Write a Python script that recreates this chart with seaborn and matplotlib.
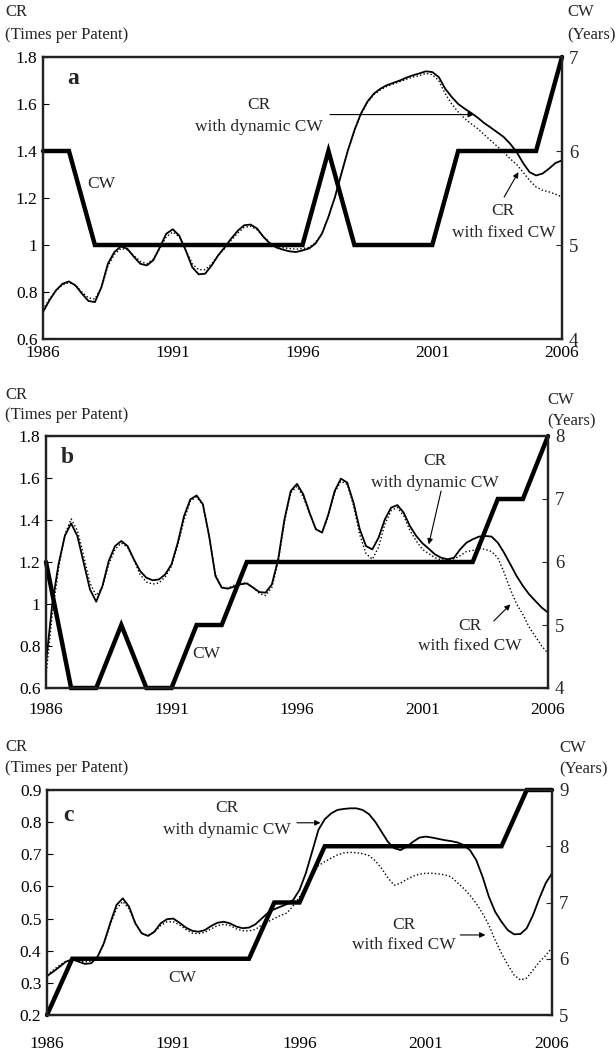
import numpy as np
import pandas as pd
import seaborn as sns
import matplotlib.pyplot as plt
from matplotlib.ticker import MultipleLocator

# time axes: CR read every quarter year, CW once a year
t_q = np.arange(1986, 2006.01, 0.25)
years = np.arange(1986, 2007)

# ---- panel a ----
a_cr_dynamic = [0.715, 0.765, 0.807, 0.835, 0.845, 0.828, 0.793, 0.762, 0.757, 0.82,
                0.92, 0.97, 0.994, 0.984, 0.95, 0.92, 0.913, 0.935, 0.99, 1.048,
                1.067, 1.04, 0.977, 0.906, 0.875, 0.878, 0.913, 0.956, 0.99, 1.027,
                1.06, 1.084, 1.087, 1.07, 1.034, 1.006, 0.989, 0.98, 0.973, 0.97,
                0.977, 0.985, 1.006, 1.048, 1.12, 1.204, 1.304, 1.403, 1.488, 1.559,
                1.61, 1.644, 1.665, 1.68, 1.69, 1.70, 1.712, 1.722, 1.73, 1.739,
                1.736, 1.715, 1.665, 1.63, 1.60, 1.58, 1.562, 1.542, 1.519, 1.50,
                1.48, 1.46, 1.431, 1.396, 1.349, 1.31, 1.296, 1.304, 1.325, 1.349, 1.36]
a_cr_fixed = [0.725, 0.77, 0.805, 0.83, 0.84, 0.83, 0.80, 0.775, 0.77, 0.82,
              0.91, 0.96, 0.985, 0.98, 0.955, 0.93, 0.92, 0.94, 0.985, 1.035,
              1.055, 1.035, 0.98, 0.92, 0.895, 0.895, 0.92, 0.955, 0.985, 1.02,
              1.05, 1.075, 1.08, 1.065, 1.035, 1.01, 0.995, 0.988, 0.985, 0.982,
              0.985, 0.99, 1.01, 1.05, 1.12, 1.204, 1.304, 1.40, 1.485, 1.555,
              1.605, 1.64, 1.66, 1.675, 1.685, 1.695, 1.705, 1.715, 1.72, 1.73,
              1.725, 1.70, 1.644, 1.60, 1.566, 1.538, 1.516, 1.495, 1.47, 1.445,
              1.42, 1.396, 1.367, 1.343, 1.31, 1.275, 1.247, 1.233, 1.226, 1.216, 1.204]
a_cw = [6, 6, 5, 5, 5, 5, 5, 5, 5, 5, 5, 6, 5, 5, 5, 5, 6, 6, 6, 6, 7]

# ---- panel b ----
b_cr_dynamic = [0.72, 1.0, 1.19, 1.324, 1.384, 1.324, 1.197, 1.07, 1.011, 1.086,
                1.205, 1.276, 1.30, 1.276, 1.213, 1.157, 1.125, 1.113, 1.117, 1.141,
                1.189, 1.292, 1.419, 1.498, 1.517, 1.475, 1.324, 1.133, 1.078, 1.073,
                1.083, 1.094, 1.098, 1.078, 1.057, 1.054, 1.094, 1.213, 1.403, 1.538,
                1.572, 1.522, 1.435, 1.356, 1.34, 1.427, 1.538, 1.597, 1.578, 1.483,
                1.356, 1.276, 1.26, 1.316, 1.403, 1.459, 1.471, 1.435, 1.371, 1.324,
                1.289, 1.263, 1.236, 1.22, 1.213, 1.22, 1.26, 1.292, 1.308, 1.321,
                1.324, 1.321, 1.292, 1.244, 1.189, 1.133, 1.086, 1.046, 1.014, 0.983, 0.959]
b_cr_fixed = [0.66, 0.95, 1.17, 1.33, 1.405, 1.35, 1.23, 1.10, 1.04, 1.08,
              1.19, 1.26, 1.29, 1.27, 1.21, 1.14, 1.105, 1.095, 1.10, 1.13,
              1.18, 1.28, 1.40, 1.49, 1.51, 1.47, 1.32, 1.14, 1.08, 1.075,
              1.09, 1.10, 1.10, 1.08, 1.05, 1.04, 1.08, 1.20, 1.39, 1.53,
              1.56, 1.51, 1.43, 1.36, 1.34, 1.42, 1.53, 1.585, 1.57, 1.47,
              1.33, 1.24, 1.213, 1.27, 1.38, 1.445, 1.46, 1.42, 1.35, 1.30,
              1.26, 1.24, 1.22, 1.21, 1.21, 1.215, 1.23, 1.25, 1.255, 1.265,
              1.26, 1.25, 1.22, 1.15, 1.07, 1.00, 0.95, 0.89, 0.845, 0.80, 0.765]
b_cw = [6, 4, 4, 5, 4, 4, 5, 5, 6, 6, 6, 6, 6, 6, 6, 6, 6, 6, 7, 7, 8]

# ---- panel c ----
c_cr_dynamic = [0.321, 0.335, 0.35, 0.366, 0.373, 0.366, 0.359, 0.361, 0.381, 0.423,
                0.485, 0.542, 0.563, 0.537, 0.485, 0.454, 0.446, 0.459, 0.485, 0.498,
                0.50, 0.487, 0.472, 0.462, 0.459, 0.464, 0.477, 0.487, 0.49, 0.485,
                0.475, 0.47, 0.472, 0.482, 0.50, 0.518, 0.529, 0.537, 0.545, 0.558,
                0.589, 0.641, 0.708, 0.776, 0.809, 0.827, 0.838, 0.841, 0.843, 0.843,
                0.838, 0.825, 0.801, 0.77, 0.739, 0.719, 0.713, 0.724, 0.739, 0.752,
                0.755, 0.752, 0.748, 0.744, 0.741, 0.737, 0.729, 0.713, 0.682, 0.63,
                0.568, 0.521, 0.49, 0.464, 0.451, 0.452, 0.47, 0.511, 0.563, 0.61, 0.641]
c_cr_fixed = [0.325, 0.34, 0.355, 0.367, 0.372, 0.368, 0.365, 0.368, 0.38, 0.42,
              0.48, 0.53, 0.553, 0.53, 0.485, 0.455, 0.448, 0.458, 0.478, 0.49,
              0.49, 0.48, 0.466, 0.455, 0.453, 0.457, 0.468, 0.478, 0.482, 0.478,
              0.468, 0.462, 0.462, 0.466, 0.48, 0.49, 0.50, 0.51, 0.517, 0.54,
              0.567, 0.60, 0.632, 0.665, 0.677, 0.688, 0.698, 0.704, 0.706, 0.705,
              0.702, 0.696, 0.68, 0.656, 0.627, 0.604, 0.61, 0.622, 0.632, 0.638,
              0.641, 0.641, 0.639, 0.636, 0.63, 0.612, 0.594, 0.573, 0.547, 0.516,
              0.48, 0.433, 0.392, 0.356, 0.324, 0.309, 0.315, 0.34, 0.365, 0.385, 0.41]
c_cw = [5, 6, 6, 6, 6, 6, 6, 6, 6, 7, 7, 8, 8, 8, 8, 8, 8, 8, 8, 9, 9]

panels = [
    dict(tag="a", dyn=a_cr_dynamic, fix=a_cr_fixed, cw=a_cw,
         ylim=(0.6, 1.8), ystep=0.2, cwlim=(4, 7),
         yticklabels=["0.6", "0.8", "1", "1.2", "1.4", "1.6", "1.8"],
         rect=[43 / 616, 1 - 339 / 1054, (562 - 43) / 616, (339 - 57) / 1054],
         xpad=4, cr_y=(12, 35), cw_x=567, cw_y=(12, 35),
         dyn_txt=(1994.3, 1.594, 1.502), dyn_arrow=((1997.06, 1.555), (2002.6, 1.555)),
         fix_txt=(2003.74, 1.145, 1.051), fix_arrow=((2003.77, 1.204), (2004.32, 1.31)),
         cw_txt=(1988.25, 1.26), tag_xy=(1987.16, 1.708)),
    dict(tag="b", dyn=b_cr_dynamic, fix=b_cr_fixed, cw=b_cw,
         ylim=(0.6, 1.8), ystep=0.2, cwlim=(4, 8),
         yticklabels=["0.6", "0.8", "1", "1.2", "1.4", "1.6", "1.8"],
         rect=[46 / 616, 1 - 688 / 1054, (548 - 46) / 616, (688 - 436) / 1054],
         xpad=10, cr_y=(395, 415), cw_x=547, cw_y=(400, 421),
         dyn_txt=(2001.51, 1.68, 1.578), dyn_arrow=((2001.74, 1.538), (2001.25, 1.284)),
         fix_txt=(2002.9, 0.895, 0.80), fix_arrow=((2003.84, 0.919), (2004.5, 0.998)),
         cw_txt=(1992.37, 0.76), tag_xy=(1986.86, 1.697)),
    dict(tag="c", dyn=c_cr_dynamic, fix=c_cr_fixed, cw=c_cw,
         ylim=(0.2, 0.9), ystep=0.1, cwlim=(5, 9),
         yticklabels=["0.2", "0.3", "0.4", "0.5", "0.6", "0.7", "0.8", "0.9"],
         rect=[47 / 616, 1 - 1015 / 1054, (552 - 47) / 616, (1015 - 790) / 1054],
         xpad=15, cr_y=(747, 768), cw_x=559, cw_y=(748, 769),
         dyn_txt=(1993.13, 0.843, 0.776), dyn_arrow=((1995.9, 0.798), (1996.83, 0.798)),
         fix_txt=(2000.15, 0.48, 0.418), fix_arrow=((2002.37, 0.449), (2003.36, 0.449)),
         cw_txt=(1991.35, 0.314), tag_xy=(1986.86, 0.822)),
]

sns.set_style("white")
plt.rcParams['font.family'] = ['Liberation Serif', 'DejaVu Serif']

fig = plt.figure(figsize=(6.16, 10.54), dpi=100)
FS = 12.5

for p in panels:
    ax = fig.add_axes(p["rect"])
    df = pd.DataFrame({"year": t_q, "dynamic": p["dyn"], "fixed": p["fix"]})
    sns.lineplot(data=df, x="year", y="fixed", ax=ax, color="black",
                 lw=1.0, linestyle=(0, (1, 1.6)))
    sns.lineplot(data=df, x="year", y="dynamic", ax=ax, color="black", lw=1.3)
    ax.set_xlim(1986, 2006)
    ax.set_ylim(*p["ylim"])
    ax.set_yticks(np.arange(p["ylim"][0], p["ylim"][1] + 1e-6, p["ystep"]))
    ax.set_yticklabels(p["yticklabels"])
    ax.set_xticks([1986, 1991, 1996, 2001, 2006])
    ax.xaxis.set_minor_locator(MultipleLocator(1))
    ax.set_xlabel("")
    ax.set_ylabel("")
    ax.tick_params(axis="both", which="both", direction="in", length=4,
                   width=0.8, labelsize=FS, colors="black")
    ax.tick_params(axis="x", pad=p["xpad"])
    ax.tick_params(axis="y", pad=4)
    for s in ax.spines.values():
        s.set_linewidth(1.6)
        s.set_color("#222222")

    ax2 = ax.twinx()
    cwdf = pd.DataFrame({"year": years, "cw": p["cw"]})
    sns.lineplot(data=cwdf, x="year", y="cw", ax=ax2, color="black", lw=3.2,
                 solid_joinstyle="miter", clip_on=False)
    ax2.set_ylim(*p["cwlim"])
    ax2.set_yticks(np.arange(p["cwlim"][0], p["cwlim"][1] + 1))
    ax2.set_ylabel("")
    ax2.tick_params(axis="y", direction="in", length=4, width=0.8,
                    labelsize=FS + 1, pad=5)
    for s in ax2.spines.values():
        s.set_linewidth(1.6)
        s.set_color("#222222")

    # titles of the two value axes
    fig.text(5 / 616, 1 - p["cr_y"][0] / 1054, "CR", fontsize=FS - 0.5, va="center")
    fig.text(5 / 616, 1 - p["cr_y"][1] / 1054, "(Times per Patent)",
             fontsize=FS - 0.5, va="center")
    fig.text(p["cw_x"] / 616, 1 - p["cw_y"][0] / 1054, "CW", fontsize=FS - 0.5, va="center")
    fig.text(p["cw_x"] / 616, 1 - p["cw_y"][1] / 1054, "(Years)",
             fontsize=FS - 0.5, va="center")

    # panel tag and annotations
    ax.text(*p["tag_xy"], p["tag"], fontsize=17, fontweight="bold",
            ha="center", va="center")
    ax.text(*p["cw_txt"], "CW", fontsize=FS, ha="center", va="center")
    dx, dy1, dy2 = p["dyn_txt"]
    ax.text(dx, dy1, "CR", fontsize=FS, ha="center", va="center")
    ax.text(dx, dy2, "with dynamic CW", fontsize=FS, ha="center", va="center")
    fx, fy1, fy2 = p["fix_txt"]
    ax.text(fx, fy1, "CR", fontsize=FS, ha="center", va="center")
    ax.text(fx, fy2, "with fixed CW", fontsize=FS, ha="center", va="center")
    for tail, head in (p["dyn_arrow"], p["fix_arrow"]):
        ax.annotate("", xy=head, xytext=tail,
                    arrowprops=dict(arrowstyle="-|>", color="black", lw=0.8,
                                    mutation_scale=8, shrinkA=0, shrinkB=0))

fig.savefig("out.png", dpi=100, facecolor="white")
